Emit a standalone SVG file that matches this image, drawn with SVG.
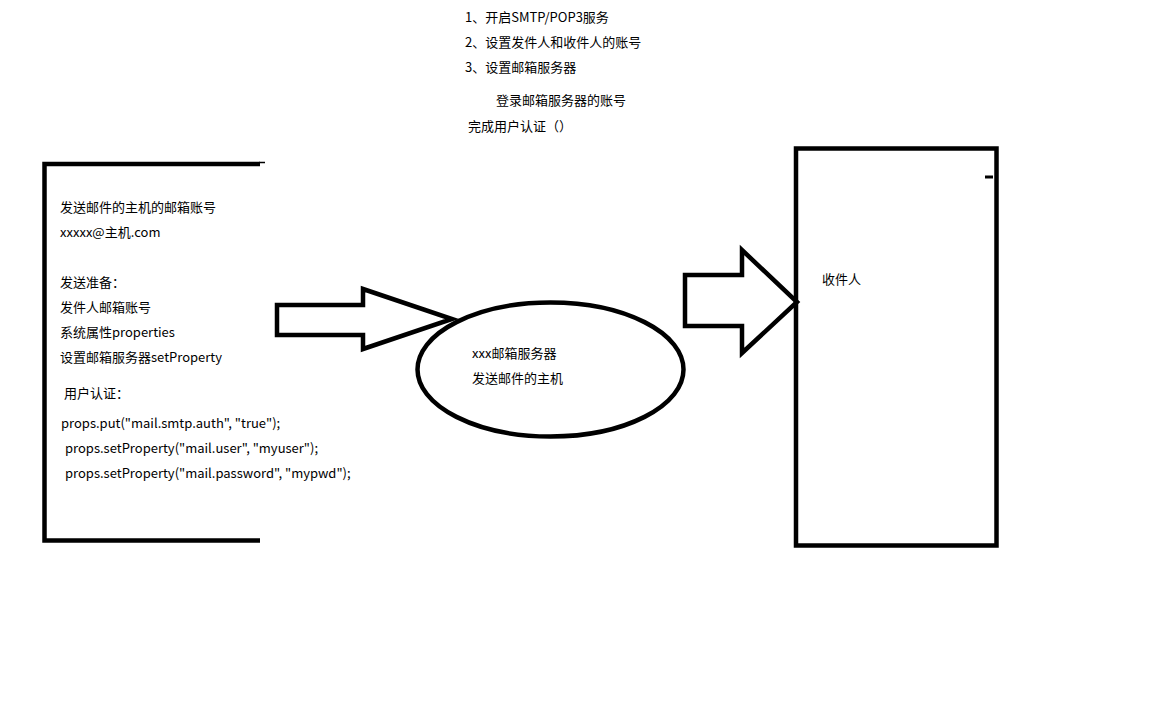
<svg xmlns="http://www.w3.org/2000/svg" width="1151" height="710" viewBox="0 0 1151 710">
<style>
text{font-family:"Microsoft YaHei","Noto Sans CJK SC","Noto Sans",sans-serif;font-size:13px;fill:#000}
.s{fill:none;stroke:#000;stroke-width:4.5;stroke-linejoin:miter}
.a{fill:#fff;stroke:#000;stroke-width:4.5;stroke-linejoin:miter}
</style>
<rect width="1151" height="710" fill="#fff"/>
<g id="notes">
<text x="465" y="22">1、开启SMTP/POP3服务</text>
<text x="465" y="47">2、设置发件人和收件人的账号</text>
<text x="465" y="72">3、设置邮箱服务器</text>
<text x="496" y="105">登录邮箱服务器的账号</text>
<text x="468" y="131">完成用户认证（）</text>
</g>
<g id="sender">
<path class="s" d="M260,164 L44.5,164 L44.5,540.5 L260,540.5"/>
<line x1="259" y1="162.5" x2="265" y2="162.5" stroke="#000" stroke-width="1.5"/>
<text x="60" y="212">发送邮件的主机的邮箱账号</text>
<text x="60" y="237">xxxxx@主机.com</text>
<text x="60" y="287">发送准备：</text>
<text x="60" y="312">发件人邮箱账号</text>
<text x="60" y="337">系统属性properties</text>
<text x="60" y="362">设置邮箱服务器setProperty</text>
<text x="64" y="398">用户认证：</text>
<text x="61" y="428">props.put("mail.smtp.auth", "true");</text>
<text x="65" y="453">props.setProperty("mail.user", "myuser");</text>
<text x="65" y="478">props.setProperty("mail.password", "mypwd");</text>
</g>
<g id="connectors">
<polygon class="a" points="277,305 363,305 363,289 452,319 363,349 363,335 277,335"/>
<polygon class="a" points="685,275 742,275 742,250 797,302 742,353 742,326 685,326"/>
</g>
<g id="server">
<ellipse class="s" cx="550.5" cy="369.5" rx="133" ry="67"/>
<text x="472" y="358">xxx邮箱服务器</text>
<text x="472" y="383">发送邮件的主机</text>
</g>
<g id="receiver">
<rect class="s" x="796" y="148.5" width="200.5" height="397" stroke-width="5"/>
<line x1="985" y1="177" x2="993" y2="177" stroke="#000" stroke-width="3"/>
<text x="822" y="284">收件人</text>
</g>
</svg>
